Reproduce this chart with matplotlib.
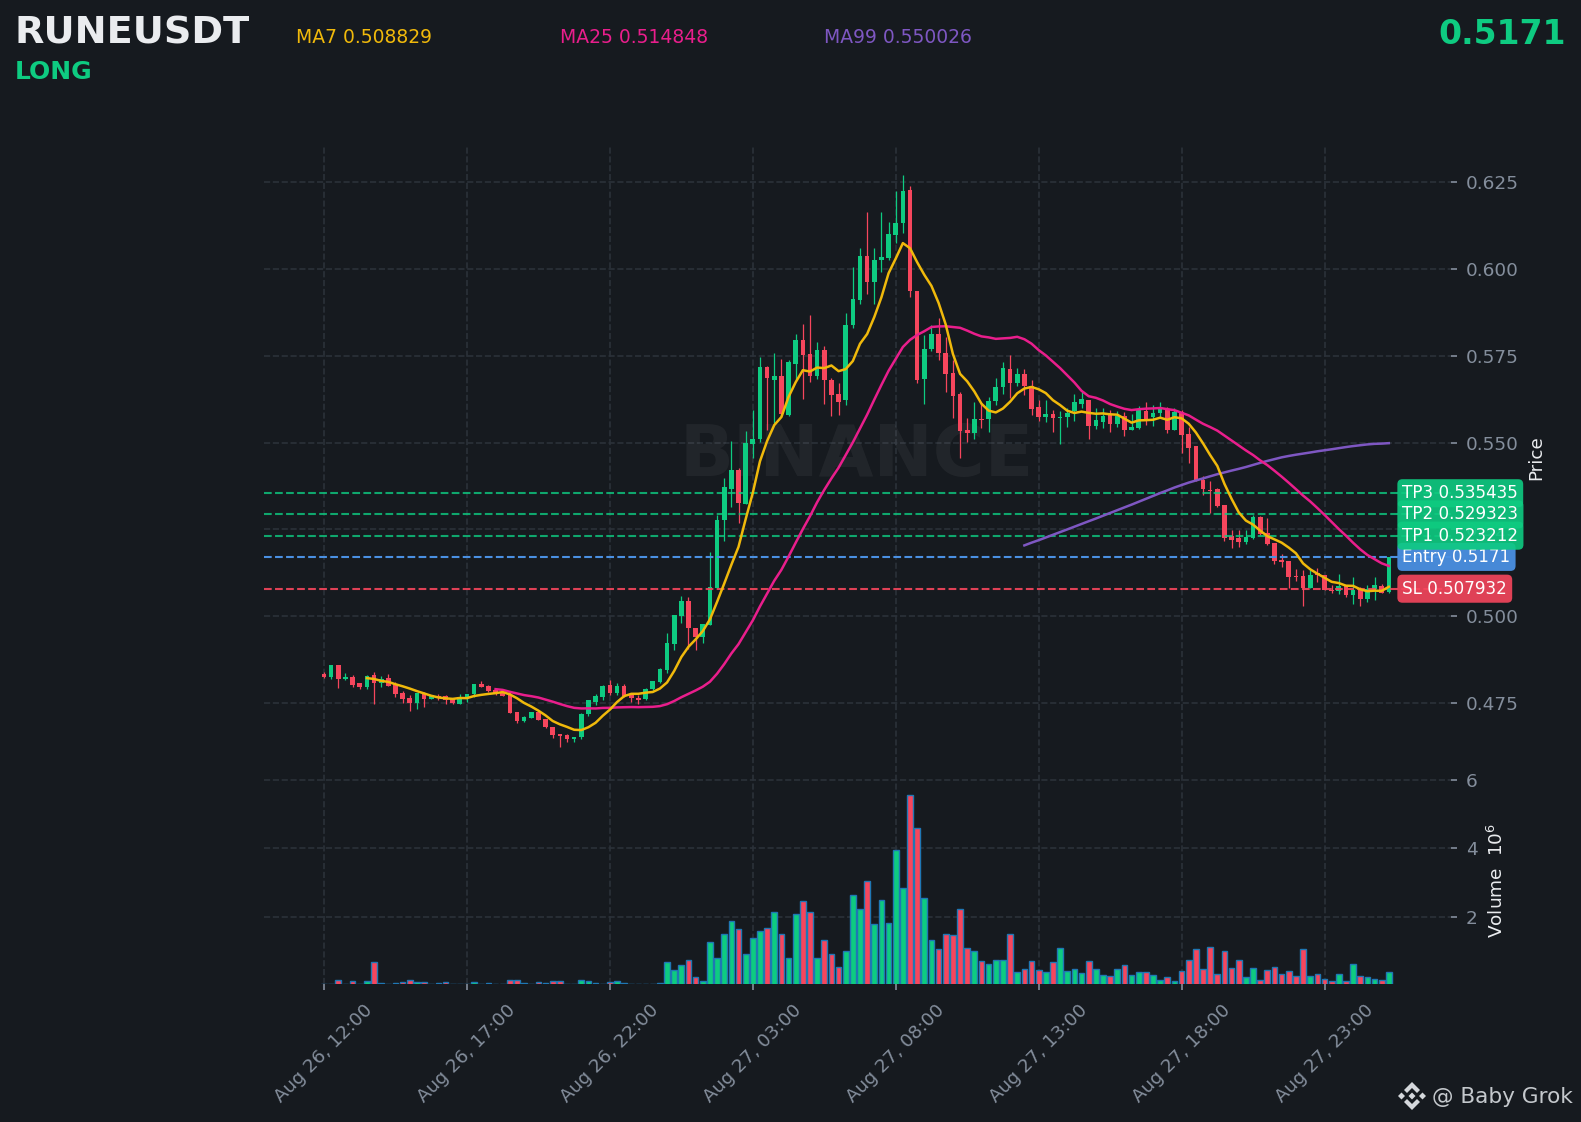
import numpy as np
import pandas as pd
from matplotlib import pyplot as plt
from matplotlib.patches import Polygon

opens = [
    4834, 4824, 4859, 4818, 4824, 4807, 4795, 4830, 4808, 4821,
    4805, 4778, 4763, 4749, 4776, 4762, 4770, 4771, 4761, 4747,
    4765, 4775, 4804, 4798, 4787, 4781, 4772, 4723, 4697, 4707,
    4724, 4703, 4682, 4660, 4657, 4645, 4651, 4717, 4752, 4766,
    4801, 4778, 4798, 4774, 4763, 4761, 4789, 4810, 4844, 4919,
    5001, 5043, 4967, 4940, 4974, 5082, 5277, 5368, 5422, 5322,
    5497, 5511, 5718, 5682, 5693, 5581, 5728, 5795, 5755, 5691,
    5766, 5680, 5640, 5623, 5838, 5910, 6039, 5963, 6025, 6031,
    6097, 6132, 6229, 5938, 5683, 5769, 5812, 5757, 5702, 5640,
    5536, 5529, 5568, 5568, 5620, 5660, 5712, 5671, 5697, 5664,
    5602, 5574, 5582, 5571, 5574, 5591, 5611, 5623, 5548, 5559,
    5579, 5555, 5577, 5536, 5542, 5591, 5574, 5585, 5597, 5536,
    5589, 5525, 5490, 5392, 5363, 5366, 5320, 5230, 5225, 5213,
    5225, 5285, 5241, 5210, 5161, 5158, 5115, 5115, 5080, 5124,
    5120, 5077, 5072, 5089, 5061, 5079, 5051, 5078, 5086, 5070,
]
closes = [
    4824, 4859, 4819, 4824, 4802, 4795, 4829, 4807, 4820, 4799,
    4776, 4761, 4749, 4778, 4761, 4772, 4765, 4759, 4749, 4767,
    4775, 4804, 4795, 4784, 4775, 4770, 4721, 4697, 4709, 4723,
    4700, 4680, 4657, 4654, 4645, 4651, 4717, 4758, 4769, 4798,
    4778, 4798, 4771, 4763, 4759, 4791, 4812, 4847, 4922, 5003,
    5043, 4966, 4940, 4979, 5083, 5276, 5372, 5422, 5327, 5499,
    5510, 5718, 5686, 5693, 5584, 5732, 5797, 5752, 5691, 5766,
    5682, 5637, 5618, 5838, 5915, 6039, 5963, 6025, 6036, 6102,
    6134, 6226, 5936, 5680, 5771, 5812, 5759, 5697, 5635, 5534,
    5529, 5567, 5565, 5620, 5660, 5714, 5671, 5699, 5663, 5597,
    5574, 5582, 5571, 5573, 5585, 5617, 5625, 5548, 5565, 5577,
    5555, 5578, 5536, 5545, 5594, 5569, 5585, 5597, 5536, 5588,
    5522, 5486, 5392, 5366, 5360, 5317, 5225, 5221, 5213, 5227,
    5285, 5238, 5207, 5158, 5156, 5113, 5113, 5080, 5120, 5118,
    5077, 5073, 5088, 5060, 5076, 5051, 5079, 5089, 5068, 5171,
]
highs = [
    4840, 4859, 4859, 4835, 4832, 4807, 4832, 4838, 4828, 4833,
    4811, 4784, 4774, 4778, 4782, 4772, 4777, 4774, 4765, 4777,
    4775, 4804, 4812, 4801, 4788, 4784, 4782, 4723, 4713, 4723,
    4727, 4705, 4682, 4660, 4660, 4652, 4721, 4758, 4777, 4801,
    4815, 4808, 4804, 4777, 4772, 4793, 4812, 4852, 4952, 5003,
    5058, 5054, 4967, 4979, 5186, 5292, 5398, 5504, 5427, 5533,
    5593, 5747, 5722, 5759, 5741, 5737, 5812, 5841, 5867, 5790,
    5780, 5687, 5672, 5875, 6006, 6060, 6166, 6060, 6166, 6137,
    6226, 6271, 6240, 5938, 5811, 5840, 5860, 5805, 5738, 5645,
    5570, 5618, 5613, 5632, 5685, 5733, 5754, 5716, 5712, 5682,
    5623, 5624, 5594, 5591, 5599, 5639, 5647, 5623, 5601, 5599,
    5594, 5591, 5587, 5584, 5605, 5616, 5608, 5616, 5603, 5601,
    5594, 5544, 5490, 5405, 5389, 5370, 5320, 5249, 5247, 5247,
    5291, 5290, 5283, 5210, 5180, 5158, 5137, 5132, 5132, 5140,
    5120, 5090, 5122, 5089, 5113, 5084, 5091, 5113, 5093, 5171,
]
lows = [
    4823, 4819, 4793, 4816, 4796, 4790, 4790, 4748, 4796, 4799,
    4767, 4751, 4727, 4734, 4738, 4762, 4760, 4748, 4748, 4747,
    4753, 4767, 4795, 4782, 4774, 4770, 4721, 4692, 4696, 4706,
    4700, 4677, 4650, 4623, 4637, 4638, 4646, 4712, 4745, 4760,
    4772, 4772, 4767, 4752, 4748, 4760, 4788, 4809, 4835, 4904,
    4981, 4907, 4902, 4924, 4974, 5082, 5218, 5314, 5268, 5322,
    5455, 5502, 5537, 5558, 5581, 5578, 5682, 5626, 5674, 5684,
    5611, 5578, 5581, 5608, 5829, 5900, 5929, 5900, 5991, 6025,
    6075, 6103, 5920, 5673, 5612, 5763, 5739, 5647, 5570, 5457,
    5501, 5510, 5541, 5530, 5608, 5639, 5630, 5664, 5637, 5579,
    5562, 5560, 5532, 5495, 5546, 5563, 5601, 5511, 5538, 5541,
    5532, 5544, 5520, 5536, 5540, 5550, 5549, 5574, 5527, 5536,
    5469, 5442, 5391, 5350, 5296, 5315, 5217, 5196, 5199, 5209,
    5223, 5233, 5206, 5150, 5142, 5081, 5101, 5029, 5080, 5098,
    5077, 5066, 5065, 5055, 5035, 5029, 5040, 5048, 5066, 5066,
]
# volume in millions
volumes = [
    .06, .06, .18, .06, .13, .06, .13, .68, .08, .06,
    .08, .10, .18, .10, .10, .06, .07, .11, .06, .06,
    .06, .11, .06, .08, .06, .06, .16, .16, .08, .06,
    .11, .08, .13, .13, .06, .06, .16, .13, .08, .06,
    .11, .13, .08, .06, .06, .06, .06, .08, .68, .47,
    .59, .76, .24, .13, 1.28, .82, 1.52, 1.89, 1.65, .91,
    1.40, 1.60, 1.69, 2.15, 1.52, .82, 2.10, 2.47, 2.15, .82,
    1.34, .91, .56, 1.00, 2.65, 2.24, 3.05, 1.81, 2.50, 1.84,
    3.95, 2.85, 5.55, 4.59, 2.56, 1.34, 1.08, 1.52, 1.49, 2.24,
    1.11, 1.00, .71, .62, .76, .76, 1.52, .39, .50, .71,
    .47, .39, .68, 1.11, .42, .50, .36, .71, .50, .30,
    .27, .50, .59, .30, .39, .39, .30, .18, .24, .15,
    .44, .76, 1.08, .50, 1.14, .33, 1.02, .53, .76, .24,
    .53, .18, .47, .56, .33, .44, .27, 1.08, .27, .33,
    .21, .13, .33, .13, .62, .27, .24, .21, .18, .39,
]

time_ticks = [0, 20, 40, 60, 80, 100, 120, 140]
time_labels = [
    "Aug 26, 12:00", "Aug 26, 17:00", "Aug 26, 22:00", "Aug 27, 03:00",
    "Aug 27, 08:00", "Aug 27, 13:00", "Aug 27, 18:00", "Aug 27, 23:00",
]
price_ticks = [0.475, 0.500, 0.525, 0.550, 0.575, 0.600, 0.625]
volume_ticks = [2, 4, 6]

tp_levels = [("TP3", 0.535435), ("TP2", 0.529323), ("TP1", 0.523212)]
entry_level = 0.5171
sl_level = 0.507932

BG = "#161A1F"
GREEN = "#0ECB81"
RED = "#F6465D"
GRID = "#2B3139"
GRAY = "#848E9C"
LIGHT = "#EAECEF"
MA7_COLOR = "#F0B90B"
MA25_COLOR = "#E91E8C"
MA99_COLOR = "#7E57C2"
W, H = 1581, 1122

opens = np.array(opens) / 1e4
closes = np.array(closes) / 1e4
highs = np.array(highs) / 1e4
lows = np.array(lows) / 1e4
xs = np.arange(len(closes))
up = closes >= opens
colors = [GREEN if u else RED for u in up]

close_series = pd.Series(closes)
ma7 = close_series.rolling(7).mean()
ma25 = close_series.rolling(25).mean()
ma99 = close_series.rolling(99).mean()


def pixel_axes(left, top, right, bottom):
    return fig.add_axes([left / W, 1 - bottom / H, (right - left) / W, (bottom - top) / H])


fig = plt.figure(figsize=(W / 100, H / 100), dpi=100, facecolor=BG)
ax = pixel_axes(264, 146, 1451, 772)
ax_vol = pixel_axes(264, 772, 1451, 984)

for a in (ax, ax_vol):
    a.set_facecolor(BG)
    a.set_xlim(-8.4, 157.7)
    a.set_xticks(time_ticks)
    a.grid(True, color=GRID, linestyle="--", linewidth=1.2)
    a.set_axisbelow(True)
    for spine in a.spines.values():
        spine.set_visible(False)
    a.yaxis.tick_right()
    a.tick_params(axis="y", colors=GRAY, labelsize=13.3, length=4.5, width=1.2, pad=6)

ax.set_ylim(0.45512, 0.63548)
ax.set_yticks(price_ticks)
ax.set_yticklabels([f"{t:.3f}" for t in price_ticks])
ax.tick_params(axis="x", bottom=False, labelbottom=False)

ax_vol.set_ylim(0.05, 6.23)
ax_vol.set_yticks(volume_ticks)
ax_vol.set_xticklabels(time_labels, rotation=45, ha="center", rotation_mode="default")
ax_vol.tick_params(axis="x", colors=GRAY, labelsize=13.3, length=4.5, width=1.2, pad=8)

# watermark
ax.text(74.5, 0.5461, "BINANCE", fontsize=51, fontweight="bold", color="#FFFFFF",
        alpha=0.05, ha="center", va="center", zorder=1)

# candles
ax.vlines(xs, lows, highs, colors=colors, linewidth=0.9, zorder=3)
ax.bar(xs, np.abs(closes - opens), bottom=np.minimum(opens, closes), width=0.65,
       color=colors, linewidth=0, zorder=3.1)

# trade levels
for name, level in tp_levels:
    ax.axhline(level, color=GREEN, alpha=0.8, linestyle="--", linewidth=1.5, zorder=3.5)
ax.axhline(entry_level, color="#4A90E2", linestyle="--", linewidth=1.5, zorder=3.5)
ax.axhline(sl_level, color=RED, alpha=0.9, linestyle="--", linewidth=1.5, zorder=3.5)

ax.plot(xs, ma99, color=MA99_COLOR, linewidth=1.8, zorder=4)
ax.plot(xs, ma25, color=MA25_COLOR, linewidth=1.8, zorder=4)
ax.plot(xs, ma7, color=MA7_COLOR, linewidth=1.8, zorder=4)

box = dict(boxstyle="round,pad=0.3", linewidth=0)
ax.text(150.9, sl_level, f"SL {sl_level}", color="white", fontsize=12.1, va="center", zorder=6,
        bbox=dict(box, facecolor=RED, alpha=0.9))
ax.text(150.9, entry_level, f"Entry {entry_level}", color="white", fontsize=12.1, va="center", zorder=6,
        bbox=dict(box, facecolor="#4A90E2", alpha=0.95))
# TP1 goes on top of TP2 and TP2 on top of TP3, the boxes touch
for name, level in tp_levels:
    ax.text(150.9, level, f"{name} {level}", color="white", fontsize=12.1, va="center", zorder=7,
            bbox=dict(box, facecolor=GREEN, alpha=0.9))

# volume
ax_vol.bar(xs, volumes, width=0.8, color=colors, edgecolor="#1F77B4", linewidth=1, zorder=3)

# header, side labels and the logo go on one overlay in pixel coordinates
over = fig.add_axes([0, 0, 1, 1])
over.set_xlim(0, W)
over.set_ylim(H, 0)
over.axis("off")
over.patch.set_alpha(0)

over.text(14, 43, "RUNEUSDT", fontsize=27.5, fontweight="bold", color=LIGHT, va="baseline")
over.text(15, 79, "LONG", fontsize=18, fontweight="bold", color=GREEN, va="baseline")
over.text(296, 43, f"MA7 {0.508829:.6f}", fontsize=13.5, color=MA7_COLOR, va="baseline")
over.text(560, 43, f"MA25 {0.514848:.6f}", fontsize=13.5, color=MA25_COLOR, va="baseline")
over.text(824, 43, f"MA99 {0.550026:.6f}", fontsize=13.5, color=MA99_COLOR, va="baseline")
over.text(1566, 44, "0.5171", fontsize=23.8, fontweight="bold", color=GREEN, ha="right", va="baseline")

over.text(1536, 458, "Price", fontsize=13.2, color=LIGHT, rotation=90, ha="center", va="center")
over.text(1497, 880, r"Volume  $\mathdefault{10^{6}}$", fontsize=13.3, color=LIGHT,
          rotation=90, ha="center", va="center")

logo_x, logo_y = 1412, 1096
logo_color = "#D5D8DC"
chevron = [(0, -14), (8, -6), (5, -3), (0, -8), (-5, -3), (-8, -6)]
for sign in (1, -1):
    over.add_patch(Polygon([(logo_x + px, logo_y + sign * py) for px, py in chevron], color=logo_color, lw=0))
for cx in (-10.5, 0, 10.5):
    diamond = [(cx - 3.5, 0), (cx, -3.5), (cx + 3.5, 0), (cx, 3.5)]
    over.add_patch(Polygon([(logo_x + px, logo_y + py) for px, py in diamond], color=logo_color, lw=0))
over.text(1432, 1103, "@ Baby Grok", fontsize=15.6, color="#C4C8CC", va="baseline")

fig.savefig("out.png", dpi=100, facecolor=BG)
